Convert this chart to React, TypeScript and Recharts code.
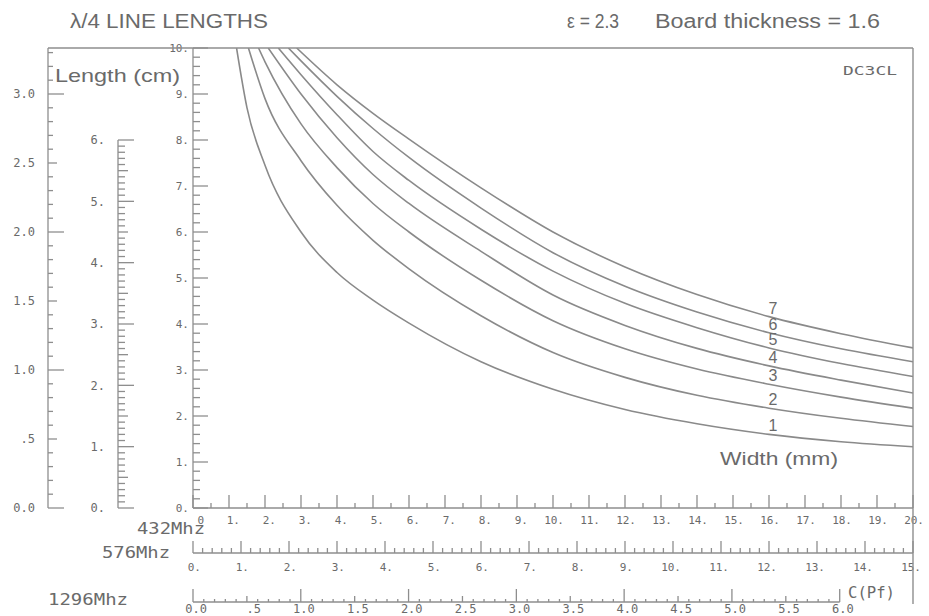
import { LineChart, Line, XAxis, YAxis } from 'recharts';

// λ/4 stripline lengths vs. strip width, ε = 2.3, 1.6 mm board
const curveNames = ['1', '2', '3', '4', '5', '6', '7'];

const widths1 = [1.21, 1.5, 2, 3, 4, 5, 6, 8, 10, 12, 14, 16, 18, 20];
const lengths1 = [10, 8.7, 7.45, 6.0, 5.12, 4.52, 4.02, 3.18, 2.58, 2.14, 1.83, 1.6, 1.44, 1.33];

const widths2 = [1.54, 2, 3, 4, 5, 6, 8, 10, 12, 14, 16, 18, 20];
const lengths2 = [10, 8.9, 7.55, 6.58, 5.82, 5.2, 4.18, 3.38, 2.84, 2.45, 2.17, 1.95, 1.77];

const widths3 = [1.82, 2, 3, 4, 5, 6, 8, 10, 12, 14, 16, 18, 20];
const lengths3 = [10, 9.7, 8.35, 7.4, 6.62, 6.0, 4.95, 4.07, 3.46, 3.02, 2.69, 2.41, 2.17];

const widths4 = [2.09, 3, 4, 5, 6, 8, 10, 12, 14, 16, 18, 20];
const lengths4 = [10, 9.0, 8.05, 7.25, 6.62, 5.58, 4.63, 3.97, 3.47, 3.09, 2.78, 2.5];

const widths5 = [2.37, 3, 4, 5, 6, 8, 10, 12, 14, 16, 18, 20];
const lengths5 = [10, 9.42, 8.55, 7.75, 7.12, 6.06, 5.15, 4.45, 3.92, 3.48, 3.14, 2.86];

const widths6 = [2.65, 3, 4, 5, 6, 8, 10, 12, 14, 16, 18, 20];
const lengths6 = [10, 9.72, 8.95, 8.25, 7.62, 6.52, 5.55, 4.82, 4.26, 3.81, 3.46, 3.18];

const widths7 = [2.88, 4, 5, 6, 8, 10, 12, 14, 16, 18, 20];
const lengths7 = [10, 9.2, 8.58, 8.02, 6.96, 6.0, 5.24, 4.64, 4.16, 3.79, 3.48];

// width where the curve numbers are written
const labelWidth = 16;

// tick labels
const lengthLabels432 = ['0.', '1.', '2.', '3.', '4.', '5.', '6.', '7.', '8.', '9.', '10.'];
const lengthLabels576 = ['0.', '1.', '2.', '3.', '4.', '5.', '6.'];
const lengthLabels1296 = ['0.0', '.5', '1.0', '1.5', '2.0', '2.5', '3.0'];
const widthLabels432 = ['0', '1.', '2.', '3.', '4.', '5.', '6.', '7.', '8.', '9.', '10.',
  '11.', '12.', '13.', '14.', '15.', '16.', '17.', '18.', '19.', '20.'];
const widthLabels576 = ['0.', '1.', '2.', '3.', '4.', '5.', '6.', '7.', '8.', '9.', '10.',
  '11.', '12.', '13.', '14.', '15.'];
const capLabels = ['0.0', '.5', '1.0', '1.5', '2.0', '2.5', '3.0', '3.5', '4.0', '4.5',
  '5.0', '5.5', '6.0'];

const MAX_LEN = 10;
const MAX_WIDTH = 20;
const CAP_LAST = 6;
const CAP_FULL = 6.68;

const W = 929;
const H = 616;
const MARGIN = { top: 48, right: 16, bottom: 0, left: 0 };
const PLOT_LEFT = 193;
const PLOT_W = W - MARGIN.right - PLOT_LEFT;
const PLOT_H = H - MARGIN.top - 108;

const INK = '#8e8e8e';
const TEXT = '#6a6a6a';
const MONO = '"DejaVu Sans Mono", "Liberation Mono", monospace';
const SANS = '"Liberation Sans", Arial, sans-serif';

const curves = [
  [widths1, lengths1], [widths2, lengths2], [widths3, lengths3], [widths4, lengths4],
  [widths5, lengths5], [widths6, lengths6], [widths7, lengths7],
].map(([ws, ls], i) => ({
  name: curveNames[i],
  labelIndex: ws.indexOf(labelWidth),
  data: ws.map((w, j) => ({ w, L: ls[j] })),
}));

function steps(max: number, step: number) {
  const n = Math.round(max / step + 1e-9);
  return Array.from({ length: n + 1 }, (_, i) => Math.round(i * step * 1000) / 1000);
}

const onStep = (v: number, m: number) => Math.abs(v / m - Math.round(v / m)) < 1e-6;

type TickRule = {
  len: (v: number) => number;
  label: (v: number) => string | null;
  dx: number;
  dy: number;
  size?: number;
};

// left axes: ticks point into the chart, labels sit to the left
const leftTick = (rule: TickRule) => (props: any) => {
  const { x, y, payload } = props;
  const v = payload.value as number;
  const text = rule.label(v);
  return (
    <g>
      <line x1={x} x2={x + rule.len(v)} y1={y} y2={y} stroke={INK} strokeWidth={1.3} />
      {text && (
        <text x={x - rule.dx} y={y + rule.dy} dy="0.35em" textAnchor="end"
          fontFamily={MONO} fontSize={rule.size ?? 11} fill={TEXT}>
          {text}
        </text>
      )}
    </g>
  );
};

// bottom axes: ticks point up, labels below
const bottomTick = (rule: TickRule) => (props: any) => {
  const { x, y, payload } = props;
  const v = payload.value as number;
  const text = rule.label(v);
  return (
    <g>
      <line x1={x} x2={x} y1={y} y2={y - rule.len(v)} stroke={INK} strokeWidth={1.3} />
      {text && (
        <text x={x + rule.dx} y={y + rule.dy} dy="0.35em" textAnchor="end"
          fontFamily={MONO} fontSize={rule.size ?? 11} fill={TEXT}>
          {text}
        </text>
      )}
    </g>
  );
};

const axisLine = { stroke: INK, strokeWidth: 1.3 };

const CurveLabel = (name: string, at: number) => (props: any) => {
  const { x, y, index } = props;
  if (index !== at) return null;
  return (
    <text x={x + 4} y={y - 3} textAnchor="middle" fontFamily={SANS} fontSize={16} fill={TEXT}>
      {name}
    </text>
  );
};

const layer = { position: 'absolute' as const, left: 0, top: 0 };

export default function App() {
  // the other bands' scales are the 432 MHz scale times 432/f
  const max576 = (MAX_LEN * 432) / 576;
  const max1296 = (MAX_LEN * 432) / 1296;
  const gap576 = ((max576 - 6) / max576) * PLOT_H;
  const capLine = (CAP_LAST / CAP_FULL) * PLOT_W;

  return (
    <div style={{ ...layer, width: W, height: H, background: '#fff' }}>
      <div style={layer}>
        <LineChart width={W} height={H} margin={MARGIN}>
          <XAxis
            xAxisId="a432" type="number" dataKey="w" domain={[0, MAX_WIDTH]} allowDataOverflow
            ticks={steps(MAX_WIDTH, 0.5)} interval={0} height={108}
            tickSize={0} tickMargin={0} tickLine={false} axisLine={axisLine}
            tick={bottomTick({
              len: (v) => (onStep(v, 1) ? 13 : 5),
              label: (v) => (onStep(v, 1) ? widthLabels432[Math.round(v)] : null),
              dx: 11, dy: 12,
            })}
          />
          <YAxis
            yAxisId="a432" type="number" domain={[0, MAX_LEN]} allowDataOverflow
            ticks={steps(MAX_LEN, 0.2)} interval={0} width={75}
            tickSize={0} tickMargin={0} tickLine={false} axisLine={axisLine}
            tick={leftTick({
              len: (v) => (onStep(v, 1) ? 15 : 7),
              label: (v) => (onStep(v, 1) ? lengthLabels432[Math.round(v)] : null),
              dx: 4, dy: 0,
            })}
          />
          <YAxis
            yAxisId="b576" type="number" domain={[0, max576]} allowDataOverflow
            ticks={steps(6, 0.1)} interval={0} width={70}
            tickSize={0} tickMargin={0} tickLine={false}
            axisLine={{ ...axisLine, strokeDasharray: `0 ${gap576} ${PLOT_H - gap576} 2000` }}
            tick={leftTick({
              len: (v) => (onStep(v, 1) ? 16 : onStep(v, 0.5) ? 10 : 7),
              label: (v) => (onStep(v, 1) ? lengthLabels576[Math.round(v)] : null),
              dx: 13, dy: 0, size: 12,
            })}
          />
          <YAxis
            yAxisId="c1296" type="number" domain={[0, max1296]} allowDataOverflow
            ticks={steps(3.3, 0.1)} interval={0} width={48}
            tickSize={0} tickMargin={0} tickLine={false} axisLine={axisLine}
            tick={leftTick({
              len: (v) => (onStep(v, 1) ? 16 : onStep(v, 0.5) ? 9 : 5),
              label: (v) => (onStep(v, 0.5) ? lengthLabels1296[Math.round(v * 2)] : null),
              dx: 13, dy: 0, size: 12,
            })}
          />
          {curves.map((c) => (
            <Line
              key={c.name}
              xAxisId="a432"
              yAxisId="a432"
              data={c.data}
              dataKey="L"
              type="monotone"
              stroke="#8a8a8a"
              strokeWidth={1.6}
              dot={false}
              activeDot={false}
              isAnimationActive={false}
              label={CurveLabel(c.name, c.labelIndex)}
            />
          ))}
        </LineChart>
      </div>

      {/* 576 MHz width scale and 1296 MHz capacitance scale under the plot */}
      <div style={layer}>
        <LineChart layout="vertical" width={W} height={H}
          margin={{ top: MARGIN.top, right: MARGIN.right, bottom: 0, left: PLOT_LEFT }}>
          <YAxis type="category" hide width={0} />
          <XAxis
            xAxisId="b576" type="number" domain={[0, (MAX_WIDTH * 432) / 576]} allowDataOverflow
            ticks={steps(15, 0.2)} interval={0} height={49}
            tickSize={0} tickMargin={0} tickLine={false} axisLine={axisLine}
            tick={bottomTick({
              len: (v) => (onStep(v, 1) ? 12 : 5),
              label: (v) => (onStep(v, 1) ? widthLabels576[Math.round(v)] : null),
              dx: 8, dy: 14,
            })}
          />
          <XAxis
            xAxisId="c1296" type="number" domain={[0, CAP_FULL]} allowDataOverflow
            ticks={steps(CAP_LAST, 0.1)} interval={0} height={14}
            tickSize={0} tickMargin={0} tickLine={false}
            axisLine={{ ...axisLine, strokeDasharray: `${capLine} 2000` }}
            tick={bottomTick({
              len: (v) => (onStep(v, 1) ? 13 : onStep(v, 0.5) ? 6 : 3),
              label: (v) => (onStep(v, 0.5) ? capLabels[Math.round(v * 2)] : null),
              dx: 14, dy: 7, size: 12,
            })}
          />
        </LineChart>
      </div>

      <svg width={W} height={H} style={{ ...layer, pointerEvents: 'none' }}>
        {/* frame */}
        <line x1={48} x2={913} y1={48} y2={48} stroke={INK} strokeWidth={1.4} />
        <line x1={913} x2={913} y1={48} y2={604} stroke={INK} strokeWidth={1.4} />

        <text x={70} y={28} fontFamily={SANS} fontSize={20} fill={TEXT} textLength={198} lengthAdjust="spacingAndGlyphs">
          λ/4 LINE LENGTHS
        </text>
        <text x={567} y={28} fontFamily={SANS} fontSize={20} fill={TEXT} textLength={52} lengthAdjust="spacingAndGlyphs">
          ε = 2.3
        </text>
        <text x={655} y={28} fontFamily={SANS} fontSize={20} fill={TEXT} textLength={225} lengthAdjust="spacingAndGlyphs">
          Board thickness = 1.6
        </text>
        <text x={843} y={75} fontFamily={MONO} fontSize={13} fill={TEXT} textLength={54} lengthAdjust="spacingAndGlyphs">
          DC3CL
        </text>
        <text x={55} y={82} fontFamily={SANS} fontSize={19} fill={TEXT} textLength={125} lengthAdjust="spacingAndGlyphs">
          Length (cm)
        </text>
        <text x={720} y={465} fontFamily={SANS} fontSize={19} fill={TEXT} textLength={118} lengthAdjust="spacingAndGlyphs">
          Width (mm)
        </text>
        <text x={137} y={534} fontFamily={MONO} fontSize={15} fill={TEXT} textLength={68} lengthAdjust="spacingAndGlyphs">
          432Mhz
        </text>
        <text x={102} y={558} fontFamily={MONO} fontSize={15} fill={TEXT} textLength={68} lengthAdjust="spacingAndGlyphs">
          576Mhz
        </text>
        <text x={48} y={605} fontFamily={MONO} fontSize={15} fill={TEXT} textLength={80} lengthAdjust="spacingAndGlyphs">
          1296Mhz
        </text>
        <text x={848} y={598} fontFamily={MONO} fontSize={15} fill={TEXT} textLength={47} lengthAdjust="spacingAndGlyphs">
          C(Pf)
        </text>
      </svg>
    </div>
  );
}
